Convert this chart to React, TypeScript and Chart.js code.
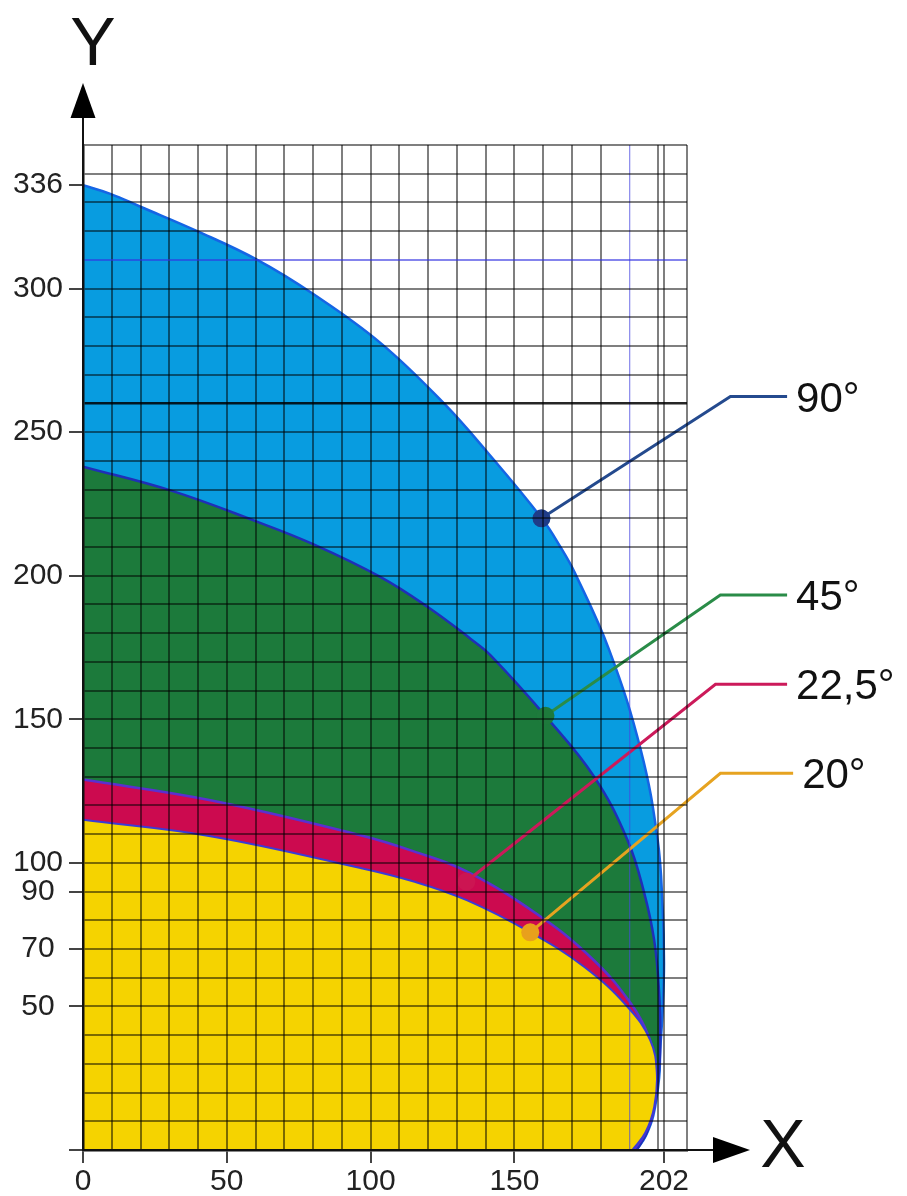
import React, { useEffect, useRef } from 'react';
import { Chart, registerables } from 'chart.js';

Chart.register(...registerables);

// ---- axis ticks ----
const X_LABELS = [0, 50, 100, 150, 202];
const Y_LABELS = [336, 300, 250, 200, 150, 100, 90, 70, 50];
const X_GRID = [0, 10, 20, 30, 40, 50, 60, 70, 80, 90, 100, 110, 120, 130, 140, 150, 160, 170, 180, 190, 200, 202, 210];
const Y_GRID = [0, 10, 20, 30, 40, 50, 60, 70, 80, 90, 100, 110, 120, 130, 140, 150, 160, 170, 180, 190, 200, 210, 220, 230, 240, 250, 260, 270, 280, 290, 300, 310, 320, 330, 336, 340, 350];

// ---- curves (x, y) ----
const curve90: number[][] = [[0, 336], [9.5, 333], [20, 328.5], [39.7, 320], [60.6, 310], [80.2, 298], [103.5, 281], [125.5, 260], [140.6, 243], [159.5, 220], [166, 210], [171, 201], [183, 174], [194, 139], [199.8, 108], [201.5, 85], [202, 65], [201.5, 48], [200.7, 35], [200.3, 25], [198.3, 12], [195.7, 5], [192.5, 0]];
const curve45: number[][] = [[0, 238], [30.4, 229.7], [60, 219], [80, 211], [103.5, 199.5], [120, 189], [134.8, 178], [141.8, 172.2], [160.9, 151], [177.7, 130], [189.3, 108], [195, 90], [198.6, 73], [200.3, 55], [200.7, 40], [200.3, 28], [198.4, 14], [196, 6], [192.5, 0]];
const curve225: number[][] = [[0, 129], [44.3, 121.8], [96.5, 109.6], [115, 104], [133.4, 97], [159.2, 81.2], [177.7, 66], [190.5, 51], [196.5, 40], [199, 30], [199.3, 22], [198, 12], [195, 5], [191.5, 0]];
const curve20: number[][] = [[0, 115], [44.3, 109.3], [96.5, 98.2], [115, 93.5], [133.4, 87], [155.5, 75.8], [174.2, 63.8], [189.3, 49.9], [197.2, 38.3], [199.5, 27], [198.6, 15], [195.5, 6], [191, 0]];

// ---- callouts: dot on curve, elbow, end ----
const CALLOUT_LABELS = ['90°', '45°', '22,5°', '20°'];
const lead90: number[][] = [[159.4, 220], [225.1, 262.4], [244.8, 262.4]];
const lead45: number[][] = [[160.8, 151.2], [221.6, 193.3], [244.8, 193.3]];
const lead225: number[][] = [[133.3, 93.5], [219.9, 162.2], [244.8, 162.2]];
const lead20: number[][] = [[155.5, 75.8], [221.6, 131.2], [246.9, 131.2]];

const LEADERS = [lead90, lead45, lead225, lead20];
const LEADER_COLORS = ['#244a8e', '#2a8c48', '#cc1a5a', '#e6a320'];
const DOT_COLORS = ['#1f3c88', '#1e7a3c', '#cc1552', '#e8a01c'];

const FONT = '"Liberation Sans", Arial, Helvetica, sans-serif';

const toXY = (pts: number[][]) => pts.map(([x, y]) => ({ x, y }));

const decorPlugin = {
  id: 'decor',
  afterDraw(chart: any) {
    const { ctx, chartArea: a } = chart;
    const xs = chart.scales.x;
    const ys = chart.scales.y;
    ctx.save();
    ctx.strokeStyle = '#111';
    ctx.fillStyle = '#000';
    ctx.lineWidth = 2;
    // Y axis arrow
    ctx.beginPath();
    ctx.moveTo(a.left, a.top);
    ctx.lineTo(a.left, a.top - 30);
    ctx.stroke();
    ctx.beginPath();
    ctx.moveTo(a.left, a.top - 62);
    ctx.lineTo(a.left - 12.5, a.top - 27);
    ctx.lineTo(a.left + 12.5, a.top - 27);
    ctx.closePath();
    ctx.fill();
    // X axis arrow
    ctx.beginPath();
    ctx.moveTo(a.right, a.bottom);
    ctx.lineTo(a.right + 28, a.bottom);
    ctx.stroke();
    ctx.beginPath();
    ctx.moveTo(a.right + 63, a.bottom);
    ctx.lineTo(a.right + 26, a.bottom - 13);
    ctx.lineTo(a.right + 26, a.bottom + 13);
    ctx.closePath();
    ctx.fill();
    // axis letters
    ctx.fillStyle = '#111';
    ctx.font = `68px ${FONT}`;
    ctx.textAlign = 'center';
    ctx.textBaseline = 'alphabetic';
    ctx.fillText('Y', a.left + 10, a.top - 80);
    ctx.fillText('X', a.right + 96, a.bottom + 17);
    // callout labels
    ctx.font = `42px ${FONT}`;
    ctx.textAlign = 'left';
    LEADERS.forEach((pts, i) => {
      const end = pts[pts.length - 1];
      const px = xs.getPixelForValue(end[0]) + 9;
      const py = ys.getPixelForValue(end[1]) + 15;
      ctx.fillText(CALLOUT_LABELS[i], px, py);
    });
    ctx.restore();
  },
};

export default function App() {
  const ref = useRef<HTMLCanvasElement | null>(null);

  useEffect(() => {
    if (!ref.current) return;

    const leaderSets = LEADERS.map((pts, i) => ({
      data: toXY(pts),
      indexAxis: 'y',
      borderColor: LEADER_COLORS[i],
      borderWidth: 3,
      pointRadius: [9, 0, 0],
      pointHoverRadius: 0,
      pointBackgroundColor: DOT_COLORS[i],
      pointBorderWidth: 0,
      fill: false,
      tension: 0,
      clip: false,
    }));

    const area = (pts: number[][], bg: string, border: string, bw: number) => ({
      data: toXY(pts),
      indexAxis: 'y',
      backgroundColor: bg,
      borderColor: border,
      borderWidth: bw,
      fill: 'origin',
      pointRadius: 0,
      pointHoverRadius: 0,
      tension: 0.4,
    });

    const chart = new Chart(ref.current, {
      type: 'line',
      data: {
        datasets: [
          ...leaderSets,
          area(curve20, '#f5d300', '#3b3bd6', 2),
          area(curve225, '#cc0a4f', '#5a30d0', 2.5),
          area(curve45, '#1c7a3b', '#1f2fb8', 2.5),
          area(curve90, '#089ce0', '#1565e5', 2.5),
        ] as any,
      },
      options: {
        animation: false,
        responsive: true,
        maintainAspectRatio: false,
        indexAxis: 'y',
        layout: { padding: { left: 0, top: 145, right: 220, bottom: 0 } },
        plugins: {
          legend: { display: false },
          tooltip: { enabled: false },
        },
        events: [],
        scales: {
          x: {
            type: 'linear',
            position: 'bottom',
            min: 0,
            max: 210,
            afterBuildTicks: (s: any) => {
              s.ticks = X_GRID.map((v) => ({ value: v }));
            },
            afterFit: (s: any) => {
              s.height = 46;
            },
            ticks: {
              autoSkip: false,
              maxRotation: 0,
              padding: 1,
              color: '#222',
              font: { family: FONT, size: 30 },
              callback: (v: any) => (X_LABELS.includes(Number(v)) ? String(v) : ''),
            },
            grid: {
              z: 1,
              color: (c: any) => (c.tick && c.tick.value === 190 ? 'rgba(70,70,225,0.6)' : 'rgba(0,0,0,0.5)'),
              lineWidth: (c: any) => (c.tick && c.tick.value === 190 ? 1.3 : 2),
              tickColor: (c: any) => (c.tick && X_LABELS.includes(c.tick.value) ? '#444' : 'rgba(0,0,0,0)'),
              tickLength: 13,
              tickWidth: 2,
            },
            border: { z: 2, color: '#111', width: 2.5 },
          },
          y: {
            type: 'linear',
            position: 'left',
            min: 0,
            max: 350,
            afterBuildTicks: (s: any) => {
              s.ticks = Y_GRID.map((v) => ({ value: v }));
            },
            afterFit: (s: any) => {
              s.width = 83;
            },
            ticks: {
              autoSkip: false,
              padding: 6,
              crossAlign: 'center',
              color: '#222',
              font: { family: FONT, size: 30 },
              callback: (v: any) => (Y_LABELS.includes(Number(v)) ? String(v) : ''),
            },
            grid: {
              z: 1,
              color: (c: any) => {
                const v = c.tick ? c.tick.value : -1;
                if (v === 336) return 'rgba(0,0,0,0)';
                if (v === 310) return 'rgba(50,50,225,0.6)';
                if (v === 260) return 'rgba(0,0,0,0.85)';
                return 'rgba(0,0,0,0.5)';
              },
              lineWidth: (c: any) => (c.tick && c.tick.value === 260 ? 2.4 : 2),
              tickColor: (c: any) => (c.tick && (Y_LABELS.includes(c.tick.value) || c.tick.value === 0) ? '#444' : 'rgba(0,0,0,0)'),
              tickLength: 14,
              tickWidth: 2,
            },
            border: { z: 2, color: '#111', width: 2.5 },
          },
        },
      } as any,
      plugins: [decorPlugin],
    });

    return () => chart.destroy();
  }, []);

  return (
    <div style={{ position: 'absolute', left: 0, top: 0, width: 907, height: 1196, background: '#fff' }}>
      <canvas ref={ref} />
    </div>
  );
}
